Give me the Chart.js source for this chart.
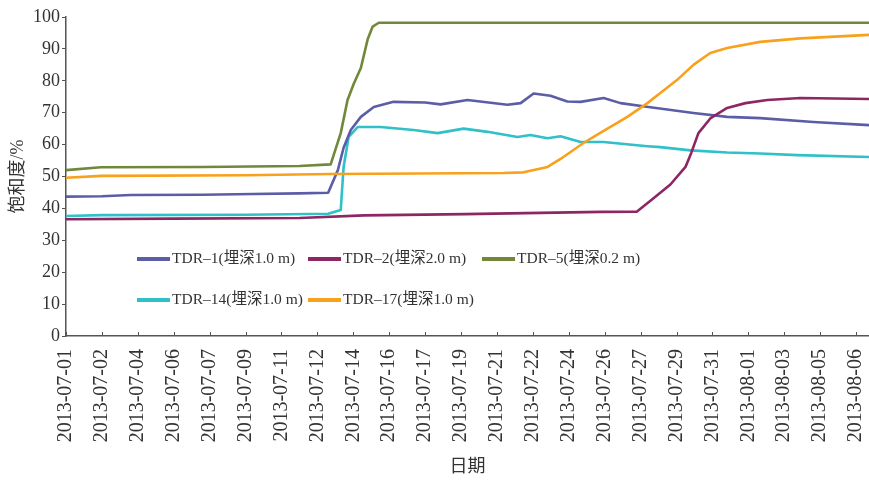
<!DOCTYPE html>
<html lang="zh">
<head>
<meta charset="UTF-8" />
<title>饱和度</title>
<script src="https://cdn.jsdelivr.net/npm/chart.js"></script>
<style>
  html, body { margin: 0; padding: 0; background: #fff; }
</style>
</head>
<body>
<canvas id="satChart" width="869" height="484"></canvas>
<script>
// date labels, one per tick step
const dateLabels = [
  "2013-07-01", "2013-07-02", "2013-07-04", "2013-07-06", "2013-07-07",
  "2013-07-09", "2013-07-11", "2013-07-12", "2013-07-14", "2013-07-16",
  "2013-07-17", "2013-07-19", "2013-07-21", "2013-07-22", "2013-07-24",
  "2013-07-26", "2013-07-27", "2013-07-29", "2013-07-31", "2013-08-01",
  "2013-08-03", "2013-08-05", "2013-08-06"
];

// x is measured in tick steps (0 = 2013-07-01 ... 22 = 2013-08-06)
const tdr1X = [0, 1.0, 1.8, 3.8, 5.2, 6.5, 7.3, 7.57, 7.73, 7.93, 8.21, 8.57, 9.12, 10.0, 10.43, 11.18, 12.29, 12.66, 13.02, 13.49, 13.96, 14.33, 14.97, 15.44, 16.22, 17.47, 18.41, 19.33, 20.81, 22.36];
const tdr1Y = [43.7, 43.8, 44.2, 44.3, 44.5, 44.7, 44.9, 52.0, 59.0, 64.6, 68.7, 71.8, 73.4, 73.2, 72.6, 74.0, 72.5, 73.0, 76.0, 75.3, 73.5, 73.4, 74.6, 73.0, 71.8, 69.9, 68.7, 68.3, 67.1, 66.1];

const tdr2X = [0, 3.0, 6.5, 8.3, 11.1, 14.9, 15.9, 16.3, 16.83, 17.25, 17.41, 17.61, 17.94, 18.41, 18.92, 19.53, 20.45, 22.36];
const tdr2Y = [36.6, 36.8, 37.0, 37.8, 38.2, 38.9, 39.0, 42.6, 47.5, 53.0, 57.4, 63.6, 68.2, 71.5, 73.0, 74.0, 74.6, 74.3];

const tdr5X = [0, 0.97, 3.8, 6.5, 7.37, 7.65, 7.84, 8.01, 8.21, 8.40, 8.54, 8.71, 22.36];
const tdr5Y = [52.0, 52.9, 53.0, 53.3, 53.8, 63.6, 74.0, 79.0, 84.0, 93.0, 97.0, 98.2, 98.2];

const tdr14X = [0, 1.0, 5.0, 7.3, 7.65, 7.73, 7.87, 8.12, 8.76, 9.68, 10.35, 11.07, 11.74, 12.57, 12.93, 13.41, 13.77, 14.33, 14.97, 16.19, 16.55, 17.39, 18.41, 19.33, 20.36, 22.36];
const tdr14Y = [37.6, 37.9, 38.0, 38.3, 39.5, 53.0, 62.4, 65.5, 65.5, 64.6, 63.6, 65.0, 64.0, 62.4, 63.0, 62.0, 62.6, 60.8, 60.8, 59.5, 59.2, 58.2, 57.5, 57.2, 56.7, 56.1];

const tdr17X = [0, 1.0, 5.0, 7.37, 12.18, 12.74, 13.41, 13.77, 14.41, 14.69, 15.63, 16.19, 16.55, 17.02, 17.47, 17.94, 18.41, 19.33, 20.45, 22.36];
const tdr17Y = [49.6, 50.2, 50.4, 50.8, 51.1, 51.3, 53.0, 55.5, 60.5, 62.4, 68.7, 73.0, 76.2, 80.3, 85.0, 88.7, 90.3, 92.2, 93.3, 94.4];

const seriesNames = ["TDR–1(埋深1.0 m)", "TDR–2(埋深2.0 m)", "TDR–5(埋深0.2 m)", "TDR–14(埋深1.0 m)", "TDR–17(埋深1.0 m)"];
const seriesColors = ["#5b5da6", "#8c2764", "#71883a", "#2fc0c8", "#f8a11c"];

const toPoints = (xs, ys) => xs.map((x, i) => ({ x: x, y: ys[i] }));
const allX = [tdr1X, tdr2X, tdr5X, tdr14X, tdr17X];
const allY = [tdr1Y, tdr2Y, tdr5Y, tdr14Y, tdr17Y];
const drawOrder = [3, 1, 4, 5, 2];

const serif = "'Liberation Serif', 'Times New Roman', serif";
const cjk = "'Liberation Serif', 'Noto Sans CJK SC', serif";

// inward x ticks + legend inside plot
const extras = {
  id: "extras",
  afterDraw(chart) {
    const { ctx, chartArea, scales } = chart;
    const xs = scales.x;
    ctx.save();
    ctx.strokeStyle = "#555";
    ctx.lineWidth = 1;
    xs.ticks.forEach(t => {
      const px = Math.round(xs.getPixelForValue(t.value)) + 0.5;
      ctx.beginPath();
      ctx.moveTo(px, chartArea.bottom);
      ctx.lineTo(px, chartArea.bottom - 4);
      ctx.stroke();
    });

    const slots = [[137, 259], [308, 259], [482, 259], [137, 300], [308, 300]];
    ctx.font = "15.5px " + cjk;
    ctx.textBaseline = "middle";
    ctx.textAlign = "left";
    chart.data.datasets.forEach((ds, i) => {
      const [lx, ly] = slots[i];
      ctx.strokeStyle = ds.borderColor;
      ctx.lineWidth = 4;
      ctx.beginPath();
      ctx.moveTo(lx, ly);
      ctx.lineTo(lx + 33, ly);
      ctx.stroke();
      ctx.fillStyle = "#333";
      ctx.fillText(ds.label, lx + 35, ly);
    });
    ctx.restore();
  }
};

new Chart(document.getElementById("satChart"), {
  type: "line",
  data: {
    datasets: seriesNames.map((name, i) => ({
      label: name,
      data: toPoints(allX[i], allY[i]),
      borderColor: seriesColors[i],
      borderWidth: 2.6,
      pointRadius: 0,
      fill: false,
      tension: 0,
      borderJoinStyle: "round",
      order: drawOrder[i]
    }))
  },
  options: {
    responsive: false,
    animation: false,
    layout: { autoPadding: false, padding: { top: 17, left: 0, right: 0, bottom: 0 } },
    plugins: { legend: { display: false }, tooltip: { enabled: false } },
    scales: {
      x: {
        type: "linear",
        min: 0,
        max: 22.36,
        afterBuildTicks: s => { s.ticks = s.ticks.filter(t => Number.isInteger(t.value)); },
        afterFit: s => { s.height = 148; s.paddingLeft = 0; s.paddingRight = 0; },
        grid: { display: false, drawTicks: false },
        border: { display: true, color: "#555", width: 1.5 },
        ticks: {
          stepSize: 1,
          includeBounds: false,
          autoSkip: false,
          minRotation: 90,
          maxRotation: 90,
          padding: 13,
          color: "#333",
          font: { family: serif, size: 20 },
          callback: v => dateLabels[v] ?? ""
        },
        title: {
          display: true,
          text: "日期",
          color: "#333",
          font: { family: cjk, size: 18 },
          padding: { top: 0, bottom: 6 }
        }
      },
      y: {
        min: 0,
        max: 100,
        afterFit: s => { s.width = 66; },
        grid: { drawOnChartArea: false, drawTicks: true, tickLength: 4, color: "#555" },
        border: { display: true, color: "#555", width: 1.5 },
        ticks: {
          stepSize: 10,
          padding: 2,
          color: "#333",
          font: { family: serif, size: 18 }
        },
        title: {
          display: true,
          text: "饱和度/%",
          color: "#333",
          font: { family: cjk, size: 18 },
          padding: { top: 7, bottom: 0 }
        }
      }
    }
  },
  plugins: [extras]
});
</script>
</body>
</html>
